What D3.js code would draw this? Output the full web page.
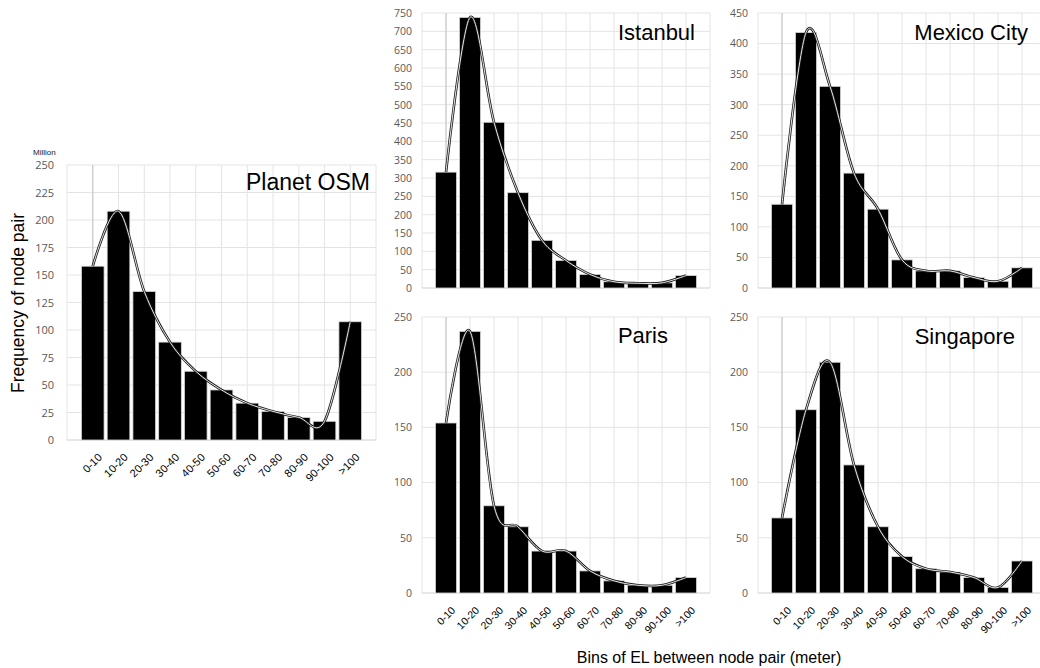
<!DOCTYPE html>
<html>
<head>
<meta charset="utf-8">
<script src="https://cdn.jsdelivr.net/npm/d3@7"></script>
<style>
  html, body { margin: 0; padding: 0; background: #fff; }
  svg { display: block; }
</style>
</head>
<body>
<svg id="chart" width="1040" height="668"></svg>
<script>
// Elevation-loss bins shared by every panel
const bins = ["0-10", "10-20", "20-30", "30-40", "40-50", "50-60", "60-70", "70-80", "80-90", "90-100", ">100"];

// Frequency of node pairs per bin (Planet OSM in millions)
const planetOSM  = [158, 208, 135, 89, 62.5, 45.5, 33.5, 26, 20.5, 17, 107.5];
const istanbul   = [316, 738, 452, 260, 130, 75, 37, 17, 13, 14, 34];
const mexicoCity = [137, 418, 330, 188, 129, 46, 28, 28, 17, 11, 33];
const paris      = [154, 237, 79, 60, 38, 38, 20, 11, 7, 7, 14];
const singapore  = [68, 166, 209, 116, 60, 33, 22, 19, 14, 5, 29];

// Y tick values per panel
const planetTicks   = d3.range(0, 251, 25);
const istanbulTicks = d3.range(0, 751, 50);
const mexicoTicks   = d3.range(0, 451, 50);
const parisTicks    = d3.range(0, 251, 50);
const singTicks     = d3.range(0, 251, 50);

// Panel placement on the page
const panels = [
  { title: "Planet OSM",  values: planetOSM,  ticks: planetTicks,   left: 67,  right: 376,  bottom: 440, top: 165, titleX: 370,  titleY: 190, titleSize: 23, tickSize: 11, binSize: 11, unit: "Million", yLabelGap: 13 },
  { title: "Istanbul",    values: istanbul,   ticks: istanbulTicks, left: 422, right: 710,  bottom: 288, top: 13,  titleX: 695,  titleY: 39.5, titleSize: 22, tickSize: 10.5, binSize: 0, yLabelGap: 10 },
  { title: "Mexico City", values: mexicoCity, ticks: mexicoTicks,   left: 758, right: 1046, bottom: 288, top: 13,  titleX: 1028, titleY: 40,  titleSize: 22, tickSize: 10.5, binSize: 0, yLabelGap: 10 },
  { title: "Paris",       values: paris,      ticks: parisTicks,    left: 422, right: 710,  bottom: 593, top: 317, titleX: 668,  titleY: 343, titleSize: 22, tickSize: 10.5, binSize: 10.5, yLabelGap: 10 },
  { title: "Singapore",   values: singapore,  ticks: singTicks,     left: 758, right: 1046, bottom: 593, top: 317, titleX: 1015, titleY: 344, titleSize: 22, tickSize: 10.5, binSize: 10.5, yLabelGap: 10 }
];

const svg = d3.select("#chart");
const sansTitle = "'Liberation Sans', Arial, Helvetica, sans-serif";
const sansTick = "'Open Sans', 'Noto Sans', sans-serif";

panels.forEach(p => {
  const g = svg.append("g");
  const x = d3.scalePoint().domain(bins).range([p.left, p.right]).padding(1);
  const step = x.step();
  const y = d3.scaleLinear().domain([0, d3.max(p.ticks)]).range([p.bottom, p.top]);

  // vertical grid lines: plot edges and every bin centre
  const vLines = d3.range(0, bins.length + 2).map(k => p.left + k * step);
  g.selectAll(".vgrid").data(vLines).join("line")
    .attr("x1", d => d).attr("x2", d => d)
    .attr("y1", p.top).attr("y2", p.bottom)
    .attr("stroke", "#e4e4e4").attr("stroke-width", 1);

  // horizontal grid lines
  g.selectAll(".hgrid").data(p.ticks.filter(t => t > 0)).join("line")
    .attr("x1", p.left).attr("x2", p.right)
    .attr("y1", d => y(d)).attr("y2", d => y(d))
    .attr("stroke", "#e4e4e4").attr("stroke-width", 1);

  // value axis line crossing at the first bin
  g.append("line")
    .attr("x1", x(bins[0])).attr("x2", x(bins[0]))
    .attr("y1", p.top).attr("y2", p.bottom)
    .attr("stroke", "#c4c4c4").attr("stroke-width", 1);

  // category axis baseline
  g.append("line")
    .attr("x1", p.left).attr("x2", p.right)
    .attr("y1", y(0)).attr("y2", y(0))
    .attr("stroke", "#cfcfcf").attr("stroke-width", 1);

  // y tick labels
  const yAxis = d3.axisLeft(y).tickValues(p.ticks).tickSize(0).tickPadding(p.yLabelGap);
  const ya = g.append("g").attr("transform", `translate(${p.left},0)`).call(yAxis);
  ya.select(".domain").remove();
  ya.selectAll("text")
    .attr("font-family", sansTick).attr("font-size", p.tickSize).attr("fill", "#595959");

  if (p.unit) {
    g.append("text").attr("x", 33).attr("y", 155)
      .attr("font-family", sansTitle).attr("font-size", 8).attr("fill", "#222")
      .text(p.unit);
  }

  // bars
  const bw = step * 0.88;
  g.selectAll(".bar").data(p.values).join("rect")
    .attr("x", (d, i) => x(bins[i]) - bw / 2)
    .attr("y", d => y(d))
    .attr("width", bw)
    .attr("height", d => y(0) - y(d))
    .attr("fill", "#000")
    .attr("stroke", "#d8d8d8").attr("stroke-width", 0.8);

  // smoothed trend line through bar tops, drawn as a double line
  const line = d3.line()
    .x((d, i) => x(bins[i]))
    .y(d => y(d))
    .curve(d3.curveCardinal.tension(0));
  g.append("path").datum(p.values).attr("d", line)
    .attr("fill", "none").attr("stroke", "#1a1a1a").attr("stroke-width", 2.6);
  g.append("path").datum(p.values).attr("d", line)
    .attr("fill", "none").attr("stroke", "#fff").attr("stroke-width", 0.9);

  // rotated bin labels
  if (p.binSize) {
    g.selectAll(".bin").data(bins).join("text")
      .attr("transform", d => `translate(${x(d) + 10},${y(0) + 18}) rotate(-45)`)
      .attr("text-anchor", "end")
      .attr("font-family", sansTitle).attr("font-size", p.binSize).attr("fill", "#000")
      .text(d => d);
  }

  // panel title
  g.append("text").attr("x", p.titleX).attr("y", p.titleY)
    .attr("text-anchor", "end")
    .attr("font-family", sansTitle).attr("font-size", p.titleSize).attr("fill", "#000")
    .text(p.title);
});

// shared axis titles
svg.append("text")
  .attr("transform", "translate(24,303) rotate(-90)")
  .attr("text-anchor", "middle")
  .attr("font-family", sansTitle).attr("font-size", 17.5).attr("fill", "#000")
  .text("Frequency of node pair");

svg.append("text")
  .attr("x", 709).attr("y", 663)
  .attr("text-anchor", "middle")
  .attr("font-family", sansTitle).attr("font-size", 16).attr("fill", "#000")
  .text("Bins of EL between node pair (meter)");
</script>
</body>
</html>
